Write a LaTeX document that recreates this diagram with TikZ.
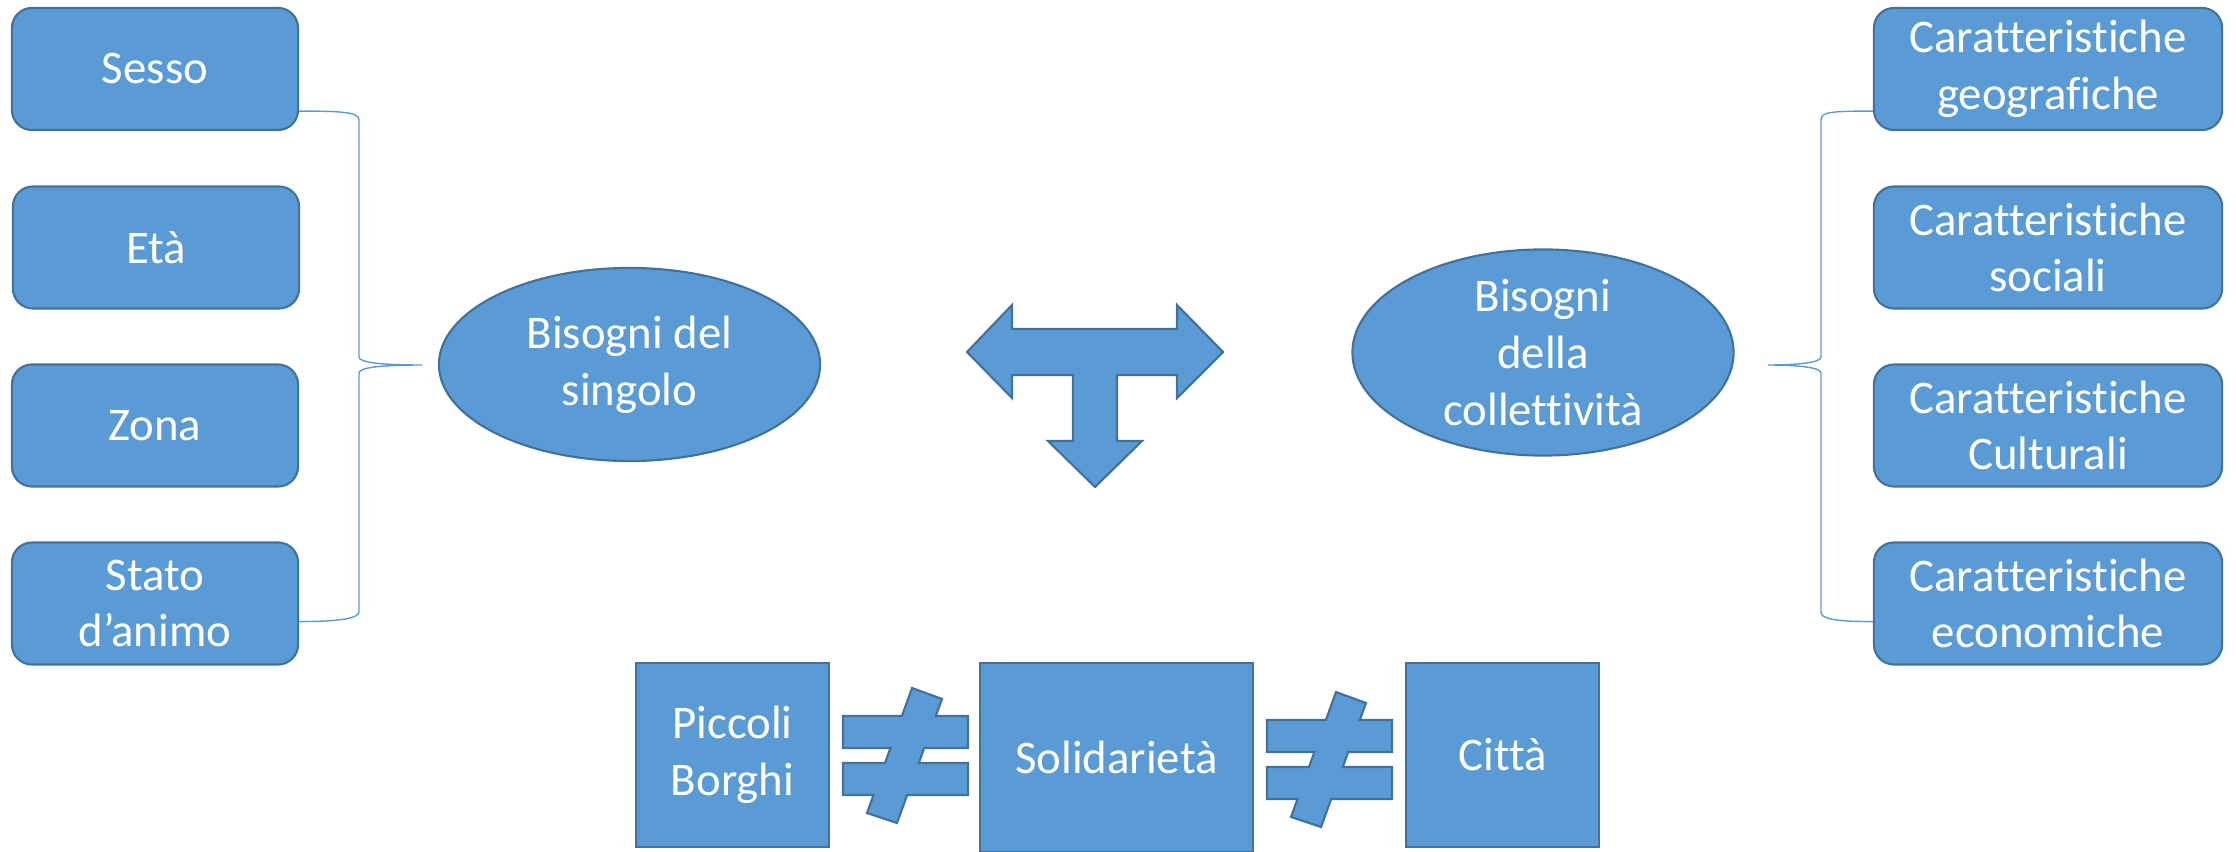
\documentclass[tikz,border=0pt]{standalone}
\usepackage{fontspec}
\setmainfont{Carlito}[Ligatures=NoCommon]
\usetikzlibrary{shapes.geometric,calc}
\definecolor{boxfill}{HTML}{5B9BD5}
\definecolor{boxline}{HTML}{41719C}
\begin{document}
\begin{tikzpicture}[x=0.01cm,y=-0.01cm,
  every node/.style={text=white,font=\fontsize{13.3}{16.1}\selectfont},
  shapebase/.style={draw=boxline,fill=boxfill,line width=0.6pt,inner sep=0pt,align=center},
  roundbox/.style={shapebase,rectangle,rounded corners=0.2cm,minimum width=2.86cm,minimum height=1.22cm},
  widebox/.style={roundbox,minimum width=3.48cm},
  needbox/.style={shapebase,ellipse,minimum width=3.81cm,minimum height=1.93cm},
  placebox/.style={shapebase,rectangle,minimum width=1.93cm,minimum height=1.84cm},
  brace/.style={draw=boxfill,line width=0.4pt},
  solid shape/.style={draw=boxline,fill=boxfill,line width=0.6pt,line join=miter},
  pics/noteq/.style={code={
    \path[solid shape] (69,-28) -- (99,-17) -- (92.8,0) -- (125,0) -- (125,32)
      -- (81.2,32) -- (75.8,47) -- (125,47) -- (125,79) -- (64.2,79)
      -- (54,107) -- (24,97) -- (30.5,79) -- (0,79) -- (0,47) -- (42,47)
      -- (47.4,32) -- (0,32) -- (0,0) -- (58.9,0) -- cycle;
  }}
]
\useasboundingbox (0,0) rectangle (2236,852);

% personal factors
\node[roundbox] (sesso) at (155,69)    {Sesso};
\node[roundbox] (eta)   at (156,247.5) {Età};
\node[roundbox] (zona)  at (155,425.5) {Zona};
\node[roundbox] (stato) at (155,603.5) {Stato\\d’animo};

% collective factors
\node[widebox] (geo) at (2048,69)    {Caratteristiche\\geografiche};
\node[widebox] (soc) at (2048,247.5) {Caratteristiche\\sociali};
\node[widebox] (cul) at (2048,425.5) {Caratteristiche\\Culturali};
\node[widebox] (eco) at (2048,603.5) {Caratteristiche\\economiche};

% needs
\node[needbox] (singolo) at (629.5,364.5) {Bisogni del\\singolo};
\node[needbox] (collett) at (1543,352.5) {Bisogni\\della\\collettività};

% left brace
\coordinate (ltip) at (422,365);
\coordinate (ltop) at ($(sesso.south east)+(0,-20)$);
\coordinate (lbot) at ($(stato.south east)+(0,-44)$);
\draw[brace] (ltop) .. controls +(42,0) and (359,112) .. (359,120) -- (359,357)
  .. controls (359,363) and (385,365) .. (ltip)
  .. controls (385,365) and (359,367) .. (359,373) -- (359,612)
  .. controls (359,618) and +(42,0) .. (lbot);

% right brace
\coordinate (rtip) at (1768,365);
\coordinate (rtop) at ($(geo.south west)+(0,-20)$);
\coordinate (rbot) at ($(eco.south west)+(0,-44)$);
\draw[brace] (rtop) .. controls +(-42,0) and (1821,112) .. (1821,120) -- (1821,357)
  .. controls (1821,363) and (1795,365) .. (rtip)
  .. controls (1795,365) and (1821,367) .. (1821,373) -- (1821,612)
  .. controls (1821,618) and +(-42,0) .. (rbot);

% three-way arrow
\path[solid shape] (967,352) -- (1012,305) -- (1012,329) -- (1177,329) -- (1177,305)
  -- (1223,352) -- (1177,398) -- (1177,375) -- (1117,375) -- (1117,441)
  -- (1142,441) -- (1095,487) -- (1048,441) -- (1073,441) -- (1073,375)
  -- (1012,375) -- (1012,398) -- cycle;

% places and solidarity
\node[placebox] (borghi) at (732.5,755) {Piccoli\\Borghi};
\node[placebox,minimum width=2.73cm,minimum height=1.89cm] (solid) at (1116.5,757.5) {Solidarietà};
\node[placebox] (citta) at (1502.5,755) {Città};

\pic at (843,716) {noteq};
\pic at (1267,720) {noteq};
\end{tikzpicture}
\end{document}
